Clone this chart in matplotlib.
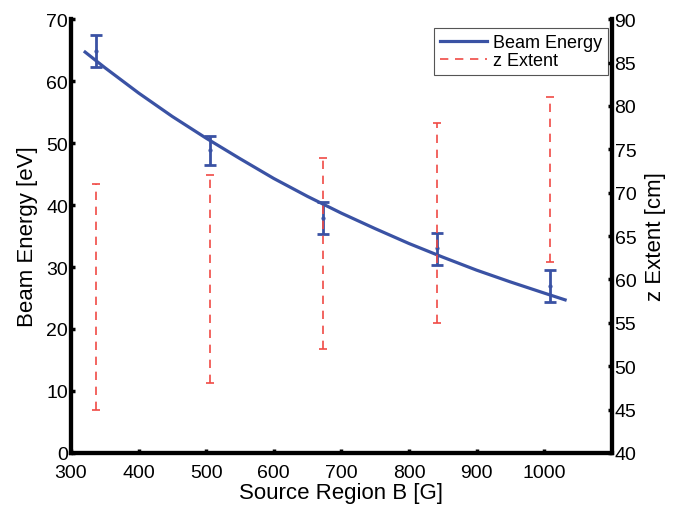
import matplotlib
matplotlib.use('Agg')
import matplotlib.pyplot as plt
from matplotlib.lines import Line2D

plt.rcParams['font.family'] = ['Liberation Sans', 'DejaVu Sans']

# measured points (source region field)
b_field = [337, 505, 673, 841, 1009]
energy = [64.9, 48.9, 37.9, 33.0, 26.9]
energy_lo = [62.3, 46.5, 35.4, 30.4, 24.4]
energy_hi = [67.5, 51.2, 40.5, 35.5, 29.5]

# fitted curve
fit_b = [321, 350, 400, 450, 500, 550, 600, 650, 700, 750, 800, 850, 900, 950, 1000, 1031]
fit_e = [64.7, 62.2, 58.1, 54.3, 50.8, 47.5, 44.3, 41.4, 38.7, 36.2, 33.8, 31.6, 29.5, 27.6, 25.8, 24.7]

# z extent ranges (right axis)
z_lo = [45, 48, 52, 55, 62]
z_hi = [71, 72, 74, 78, 81]

blue = '#3a52a4'
red = '#f04a45'

fig = plt.figure(figsize=(6.82, 5.06), dpi=100)
ax1 = fig.add_axes([0.104, 0.103, 0.793, 0.857])
ax2 = ax1.twinx()

ax1.plot(fit_b, fit_e, color=blue, linewidth=2.3, zorder=3)
err_lo = [e - l for e, l in zip(energy, energy_lo)]
err_hi = [h - e for e, h in zip(energy, energy_hi)]
ax1.errorbar(b_field, energy, yerr=[err_lo, err_hi], fmt='.', color=blue,
             markersize=4, elinewidth=2.0, capsize=4.5, capthick=2.0, zorder=4)

z_mid = [(l + h) / 2 for l, h in zip(z_lo, z_hi)]
z_half = [(h - l) / 2 for l, h in zip(z_lo, z_hi)]
eb = ax2.errorbar(b_field, z_mid, yerr=z_half, fmt='none', ecolor=red,
                  elinewidth=1.2, capsize=3, capthick=1.2)
eb[2][0].set_linestyle((0, (5, 4)))

ax1.set_xlim(300, 1100)
ax1.set_ylim(0, 70)
ax2.set_ylim(40, 90)
ax1.set_xticks([300, 400, 500, 600, 700, 800, 900, 1000])
ax1.set_yticks(range(0, 71, 10))
ax2.set_yticks(range(40, 91, 5))

for ax in (ax1, ax2):
    ax.spines['top'].set_visible(False)
    for s in ('left', 'right', 'bottom'):
        ax.spines[s].set_linewidth(3)
    ax.tick_params(direction='in', length=3, width=2.5, labelsize=14, pad=2)
ax1.tick_params(axis='x', pad=8)

ax1.set_xlabel('Source Region B [G]', fontsize=16, labelpad=1)
ax1.set_ylabel('Beam Energy [eV]', fontsize=16, labelpad=6)
ax2.set_ylabel('z Extent [cm]', fontsize=16, labelpad=6)

handles = [Line2D([], [], color=blue, linewidth=2.3),
           Line2D([], [], color=red, linewidth=1.2, linestyle=(0, (5, 4)))]
leg = ax1.legend(handles, ['Beam Energy', 'z Extent'], loc='upper right',
                 bbox_to_anchor=(0.993, 0.98), fontsize=13, fancybox=False,
                 framealpha=1, edgecolor='#555555', handlelength=2.6,
                 handletextpad=0.3, borderpad=0.35, labelspacing=0.05,
                 borderaxespad=0.0)
leg.get_frame().set_linewidth(0.8)

fig.savefig('out.png', dpi=100)
